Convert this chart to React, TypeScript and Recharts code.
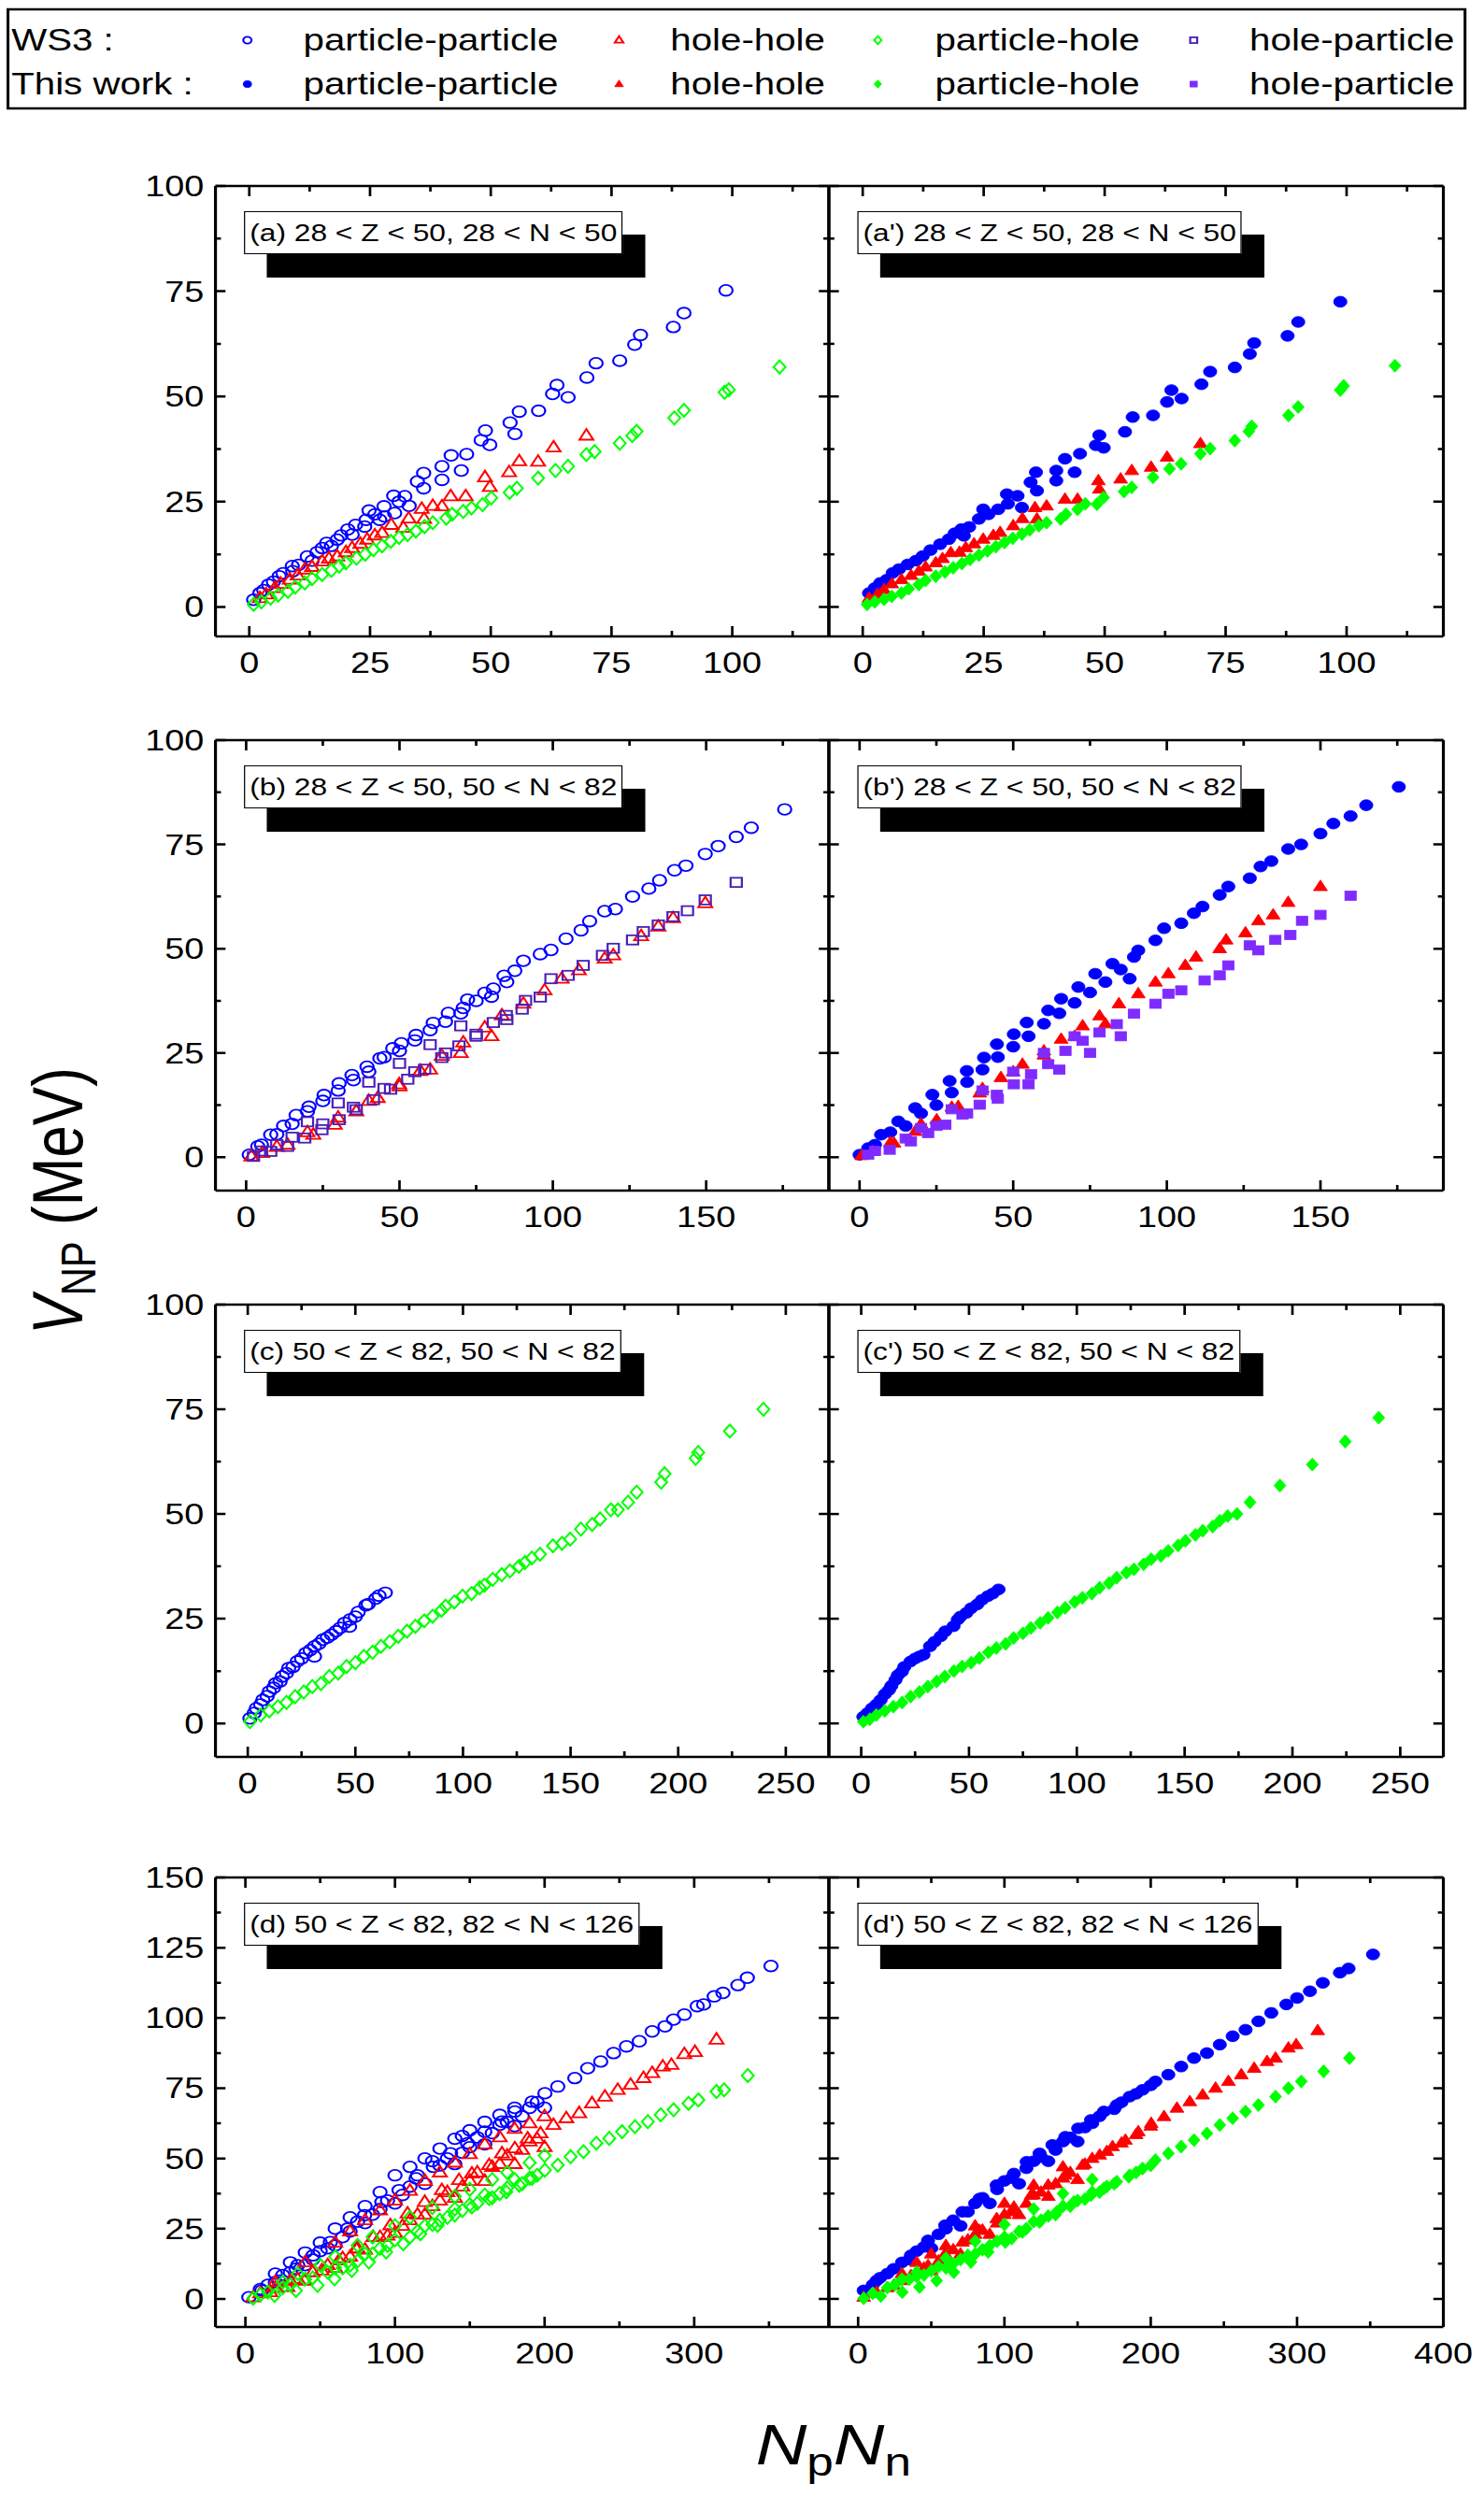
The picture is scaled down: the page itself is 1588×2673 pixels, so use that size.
import React from 'react';
import { ScatterChart, Scatter, XAxis, YAxis } from 'recharts';

type P = [number, number];

// ---- (a) / (a') 28 < Z < 50, 28 < N < 50 ----
const aPP: P[] = [[98.7,75.2],[90,69.8],[87.8,66.5],[81,64.6],[79.8,62.3],[76.7,58.5],[71.8,57.9],[69.9,54.5],[63.7,52.7],[62.8,50.6],[66,49.8],[59.9,46.6],[55.9,46.4],[54,43.8],[55,41.1],[48.9,41.9],[48,39.6],[49.8,38.5],[45,36.3],[41.8,36],[43.9,32.4],[39.9,33.4],[39.9,30.2],[36.1,31.8],[34.8,29.8],[36.1,28.2],[32.2,26.3],[29.9,26.4],[33.1,24],[27.9,23.9],[30.1,22.3],[24.8,22.9],[24.2,20.7],[27,20.7],[23.9,19.1],[20.4,18.4],[21.3,17.2],[18.2,16],[16,15.2],[15.1,14],[12,12],[10.2,10],[8.9,9.7],[6.2,7.3],[4,5.3],[2.2,3.3],[0.9,1.7],[3,4],[5,6],[7,8],[9,8.5],[13,11],[14,13],[17,14.5],[19,17],[22,19.5],[26,22],[28,21.5],[31,25]];
const aHH: P[] = [[69.8,40.7],[63,37.9],[59.8,34.5],[55.9,34.6],[53.8,32],[48.8,30.8],[49.8,28.5],[44.8,26.3],[41.7,26.3],[39.9,23.9],[35.7,23.3],[36.2,20.9],[31.9,18.8],[29.4,19.5],[27.5,17.6],[24.4,16],[21.3,14],[18.2,12],[15.1,10.8],[11.5,8.9],[8.4,6.5],[5.3,4.5],[2.2,2.1],[3.5,3],[6.5,5.5],[10,7.5],[13,9.5],[16.5,11.5],[20,13],[23,15],[26,17],[33,21],[38,24]];
const aPH: P[] = [[109.8,57],[99.3,51.6],[98.4,51],[90,46.7],[88,44.9],[80.2,41.7],[79.3,40.7],[76.7,38.9],[71.5,36.9],[69.8,36.2],[66,33.4],[63.4,32.4],[59.8,30.6],[55.4,28.2],[53.9,27.2],[50.1,25.9],[48.3,24.3],[44.3,22.7],[40.8,21.1],[36.3,19.1],[32.8,17.2],[29.3,15.6],[25.7,13.6],[22.2,11.6],[18.6,9.7],[15.1,7.7],[11.5,5.7],[8,3.7],[4.4,2.1],[0.9,0.6],[2.5,1.2],[6,2.8],[9.5,4.7],[13,6.7],[17,8.7],[20,10.5],[24,12.5],[27.5,14.5],[31,16.5],[34.5,18],[38,20],[42,22],[46,23.5]];
const a2PP: P[] = [[98.7,72.5],[90,67.7],[87.8,64.4],[80.9,62.7],[80,60.1],[76.9,56.9],[71.8,55.9],[70,52.9],[63.8,51.5],[62.9,48.7],[65.9,49.5],[60,45.5],[55.8,45.1],[54.2,41.6],[48.9,40.8],[48.2,38.4],[49.8,37.8],[44.9,36.4],[41.8,35.2],[43.8,32],[40,32.4],[40,30],[35.8,32],[34.7,29.6],[36,27.6],[32,26.4],[29.8,26.8],[32.9,23.6],[24.9,23.2],[28,23.2],[24,20.9],[20.4,18.5],[20.9,16.9],[17.8,16.1],[16,14.9],[12.4,12.1],[9.3,10.1],[6.2,8.1],[3.6,5.7],[1.3,3.3],[2.5,4.5],[5,6.5],[7.5,9],[11,11],[14,13.5],[19,17.5],[22,19],[26,22],[30,24.5]];
const a2HH: P[] = [[69.8,38.8],[62.9,35.6],[59.6,33.2],[55.6,32.4],[53.3,30.4],[48.7,30],[48.9,28],[44.4,25.6],[41.8,25.6],[35.6,23.6],[36,20.9],[31.1,19.3],[28.4,17.7],[24.9,16.1],[21.3,14.1],[18.2,12.9],[15.1,10.5],[11.6,8.5],[8,6.5],[4.4,4.1],[1.3,2.1],[3,3],[6,5.5],[10,7.5],[13,9.5],[16.5,11.5],[20,13],[23,15],[27,17],[33,21],[38,24]];
const a2PH: P[] = [[110,57.3],[99.4,52.5],[98.7,51.5],[90,47.5],[88,45.5],[80.4,42.9],[79.8,41.7],[76.9,39.5],[71.8,37.6],[69.8,36.4],[65.8,34],[63.4,32.8],[60,30.8],[55.6,28.4],[54,27.4],[49.8,26],[48.4,24.4],[44.4,23.2],[40.9,20.9],[36.4,19.3],[32.9,17.3],[29.3,15.3],[25.8,13.3],[22.2,11.3],[18.7,9.3],[15.1,7.3],[11.6,5.3],[8,3.3],[4.4,1.8],[0.9,0.6],[2.5,1.2],[6,2.5],[9.5,4.3],[13,6.3],[17,8.3],[20.5,10.3],[24,12.3],[27.5,14.3],[31,16.3],[34.5,18.3],[38,20],[42,22],[46,24.5]];

// ---- (b) / (b') 28 < Z < 50, 50 < N < 82 ----
const bPP: P[] = [[175.6,83.4],[164.7,79],[159.8,76.8],[153.9,74.6],[149.7,72.7],[143.4,69.9],[139.7,68.8],[134.8,66.4],[131.3,64.4],[126,62.5],[120.4,59.5],[116.9,59],[112,56.6],[109.2,54.4],[104.3,52.4],[99.4,49.7],[95.9,48.7],[90.4,47.1],[87.6,44.7],[84.1,43.5],[80.6,40.4],[77.8,39.4],[72.2,37.8],[70.8,35.8],[65.9,34.6],[61,32.2],[55.4,29.3],[50.6,27.3],[47.8,26.1],[43.6,23.7],[39.4,21.7],[34.5,19.7],[30.3,17.7],[25.4,14.9],[20.5,12.1],[16.3,10.1],[12.2,7.5],[8,5.4],[3.8,2.6],[1,0.6],[5,3],[10,5.5],[15,8],[20,11],[25,13.5],[30,16],[35,18.5],[40,20.5],[45,24],[50,25.5],[55,28],[60,30.5],[65,32.5],[70,34.5],[75,37.5],[80,38.5],[85,42]];
const bHH: P[] = [[149.7,60.9],[139.2,57.3],[134.4,55.3],[128.8,53],[119.7,48.4],[116.9,47.6],[108.5,44.8],[102.9,42.8],[97.3,40],[90.4,36.8],[83.4,34],[77.8,31.1],[70.8,27.5],[63.8,24.3],[56.8,20.7],[49.9,17.5],[42.9,14.2],[35.9,11],[28.9,7.8],[21.9,5.4],[13.5,3],[5.2,1],[1.7,0.2],[10,2.5],[20,6],[30,9.5],[40,13.5],[50,17],[60,21],[70,25],[80,29]];
const bHP: P[] = [[159.8,65.9],[149.7,61.7],[143.9,59.1],[139.2,57.7],[134.4,55.7],[129.5,54.1],[126,52.1],[119.7,50.1],[116.2,48.4],[109.9,46],[105,43.6],[99.4,42.8],[95.9,38.4],[91.1,37.6],[84.8,34],[80.6,32.3],[75,29.5],[69.4,26.7],[63.8,23.9],[58.2,21.1],[52.7,18.7],[47.1,16.3],[41.5,13.8],[35.9,11.4],[30.3,9],[24.7,6.6],[19.1,4.6],[13.5,2.6],[8,1.4],[2.4,0.2],[40,18],[50,22.5],[60,27],[70,31.5],[30,13],[20,8.5],[5,1.5],[10,3],[15,4.8],[25,8],[35,12],[45,16.5],[55,20.5],[65,25],[75,29],[85,33],[90,35.5]];
const b2PP: P[] = [[175.5,88.8],[164.9,84.4],[159.8,81.8],[154.2,80],[150,77.6],[143.7,75],[139.5,73.9],[134,71],[130.5,69.7],[127,66.9],[120,64.9],[117.2,62.9],[111.6,60.1],[108.8,58.5],[104.7,56.1],[99.1,54.9],[96.3,52],[90.7,49.6],[89.3,48],[82.3,46.4],[76.7,44],[87.9,42.8],[71.2,40.8],[65.6,38],[61.4,35.2],[54.4,32.3],[50.2,29.5],[44.7,27.1],[40.5,23.9],[34.9,20.7],[29.3,18.3],[23.7,15],[18.1,11.8],[12.6,8.6],[7,5.4],[2.8,2.2],[0,0.6],[45,24],[55,29],[65,34.5],[75,39.5],[35,18],[25,12.5],[15,7.5],[5,3],[10,6],[20,10.5],[30,15.5],[40,21],[50,26.5],[60,32],[70,37],[80,42],[85,45]];
const b2HH: P[] = [[150,64.9],[139.5,61.1],[134.6,58.1],[129.8,56.7],[125.6,53.8],[119.3,52.1],[117.2,50],[109.5,48],[106,46],[100.5,44],[96.3,42],[90.7,39.2],[84.4,36.8],[78.1,33.9],[72.6,31.5],[65.6,28.3],[60,25.5],[53,22.3],[46,19.1],[39.1,15.4],[32.1,12.2],[25.1,9],[18.1,6.2],[11.2,3.4],[4.2,1.4],[0.7,0.4],[10,3.5],[20,8],[30,12],[40,16.5],[50,20.5],[60,24.5],[70,29],[80,32]];
const b2HP: P[] = [[159.8,62.7],[150,58.1],[144,56.7],[140.2,53.3],[135.3,52.1],[129.8,49.6],[127,50.8],[120,46],[117.2,43.6],[112.3,42.4],[104.7,40],[100.5,39.2],[96.3,36.8],[89.3,34.4],[83.7,31.9],[78.1,29.9],[72.6,27.9],[67,25.5],[61.4,22.3],[55.8,19.9],[50.2,17.5],[44.7,15],[39.1,12.6],[33.5,10.2],[27.9,7.8],[22.3,5.8],[16.7,3.8],[9.8,1.8],[2.8,0.6],[40,16],[50,20.5],[60,25],[70,29],[30,11.5],[20,7],[5,1.5],[15,4.5],[25,7.5],[35,10.5],[45,14],[55,17.5],[65,21],[75,25],[85,29]];

// ---- (c) / (c') 50 < Z < 82, 50 < N < 82 ----
const cPP: P[] = [[63.9,31.2],[59.5,29.8],[54.9,28.2],[51.3,26.6],[47.5,24.8],[47.3,23.1],[42.9,22.8],[38.9,21.2],[34.9,20],[31,18.4],[31,16],[27,16.8],[23,14.8],[19,13.2],[16,11.2],[13,9.6],[10,7.6],[7,5.6],[4,3.6],[1,1.2],[3,2.5],[6,4.5],[9,6.5],[12,8.5],[15,10],[18,12],[21,13.5],[25,15.5],[29,17.5],[33,19],[37,20.5],[41,22],[45,24],[50,25.5],[56,28.5],[61,30.5]];
const cPH: P[] = [[239.6,75],[224,69.8],[209.3,64.7],[208.1,63.3],[193.7,59.6],[192.1,57.6],[180.7,55.2],[176.7,52.8],[168.7,51],[163.7,48.8],[154.8,46.4],[149.8,44],[141.8,42.4],[135.8,40.4],[128.8,38.4],[121.8,36.4],[113.8,34.4],[107.8,32.4],[99.8,30.4],[91.9,28],[85.9,25.6],[77.9,23.2],[69.9,20.8],[61.9,18.4],[53.9,16],[45.9,13.6],[37.9,11.2],[30,8.8],[22,6.4],[14,4],[6,2],[1,0.4],[10,3],[18,5],[26,7.5],[34,9.5],[42,12],[50,14.5],[58,17],[66,19.5],[74,22],[82,24.5],[90,27],[96,29],[104,31],[110,33],[118,35.5],[126,37.5],[132,39.5],[146,43],[160,47.5],[172,51]];
const c2PP: P[] = [[63.7,32],[58.8,30.4],[53.8,28.4],[48.8,26.4],[44.8,24.8],[42.8,23.2],[36.9,20.8],[31.9,18.4],[28.9,16.4],[22.9,14.8],[18.9,12.4],[15.9,10.4],[12.9,8],[9,5.6],[5,3.6],[1,1.6],[3,2.5],[7,4.5],[11,7],[14,9],[17,11.5],[20,13.5],[25,15.5],[27,16],[34,19.5],[39,22],[46,25.5],[51,27.5],[56,29.5],[61,31]];
const c2PH: P[] = [[240,73],[224.5,67.3],[209.2,61.8],[194.2,56.8],[180.3,52.8],[174.3,50],[166.3,48.4],[158.4,46],[150.4,43.6],[142.4,41.2],[134.5,39.2],[126.5,36.8],[118.5,34.8],[110.6,32.4],[102.6,30],[94.6,27.6],[86.7,25.2],[78.7,22.8],[70.7,20.4],[62.7,18],[54.8,15.6],[46.8,13.6],[38.8,11.2],[30.9,8.8],[22.9,6.4],[14.9,4],[7,2],[1,0.4],[4,1],[11,3],[19,5],[27,7.5],[35,10],[43,12.5],[51,14.5],[59,17],[67,19],[75,21.5],[83,24],[91,26.5],[99,29],[107,31],[115,33.5],[123,36],[131,38],[139,40],[147,42.5],[155,45],[163,47],[170,49.5]];

// ---- (d) / (d') 50 < Z < 82, 82 < N < 126 ----
const dPP: P[] = [[351.3,118.5],[335.5,114.3],[329.2,111.7],[319.2,108.9],[313.4,107.7],[306.3,104.8],[302,104.2],[293.4,101.2],[286.2,99.4],[280.5,97],[271.9,95.2],[263.3,91.7],[254.7,89.9],[246.1,87.5],[237.5,84.5],[228.8,82.1],[220.2,78.6],[208.8,75.6],[200.2,73.2],[191.6,70.2],[180.1,66.7],[171.5,63.1],[160,59.5],[148.5,55.4],[137.1,51.8],[125.6,47],[114.1,42.9],[102.7,38.7],[91.2,34.5],[79.7,29.8],[68.3,25],[56.8,20.2],[45.3,15.5],[33.8,10.7],[22.4,6.5],[10.9,3],[2.3,0.6],[40,12],[60,19],[80,27],[100,34],[120,41],[140,48],[160,55],[180,61.5],[200,68],[10,3.5],[15,5],[20,6],[25,8.5],[30,9.5],[35,12],[45,14],[50,17],[55,18],[65,22],[70,24],[75,27.5],[85,30],[90,32],[95,35],[105,37],[110,40],[115,44],[130,47.5],[135,50],[145,52],[150,54],[155,57.5],[165,59],[170,62],[175,63],[185,65],[190,68],[195,70],[100,44],[110,47],[120,50],[130,53.5],[140,57],[150,60],[160,63],[170,65.5],[180,68],[125,49],[145,58],[20,9],[30,13],[40,16.5],[50,20],[60,25],[70,29],[80,33],[90,38]];
const dHH: P[] = [[314.9,92.3],[300.5,87.9],[293.4,87.1],[284.8,83.3],[279,82.7],[271.9,80.4],[266.1,78.6],[257.5,76.2],[248.9,74.4],[240.3,72],[231.7,69.6],[223.1,66.1],[214.5,64.3],[205.9,61.9],[197.3,58.9],[188.7,57.1],[180.1,53.6],[171.5,51.8],[162.9,47.6],[151.4,44.6],[142.8,42.3],[131.3,38.7],[119.9,34.5],[108.4,30.4],[96.9,26.2],[85.5,22],[74,17.9],[62.5,13.7],[51,10.1],[39.6,6.5],[28.1,4.2],[16.6,2.4],[5.2,0.6],[60,11],[80,17.5],[100,23.5],[120,30],[140,36],[160,42],[180,48],[200,54],[10,2],[20,4],[30,6.5],[35,7],[45,9.5],[55,12],[65,14.5],[70,15],[75,18],[90,22],[95,22.5],[105,26],[110,28],[115,30],[125,33],[130,35],[135,38],[145,40],[150,42],[155,45],[165,47],[170,48],[175,51],[185,53],[190,56],[195,57],[60,20],[80,28],[100,35],[120,42],[140,48.5],[160,55],[180,60.5],[200,65],[20,6],[40,13],[70,24],[90,31.5],[110,38.5],[130,45],[150,51.5],[170,57.5],[190,62.5]];
const dPH: P[] = [[335.8,79.5],[320,74.4],[314.9,73.8],[302.8,70.8],[296.2,69.6],[286.2,67.3],[277.6,65.5],[269,63.1],[260.4,61.3],[251.8,59.5],[243.2,57.1],[234.6,55.4],[226,52.4],[217.4,50.6],[208.8,47.6],[200.2,45.8],[191.6,42.9],[183,40.5],[174.4,38.1],[162.9,35.7],[151.4,32.7],[139.9,29.8],[128.5,26.2],[117,23.2],[105.5,19.6],[94.1,16.7],[82.6,13.1],[71.1,10.1],[59.6,7.1],[48.2,4.8],[33.8,3],[19.5,1.2],[5.2,0.2],[100,21],[120,26],[140,32],[160,37],[180,42.5],[60,11],[80,16],[10,1.5],[15,2.5],[25,4],[30,5],[40,7],[45,7.5],[55,9.5],[65,11],[70,12],[75,13.5],[85,16],[90,18],[95,19],[110,22],[115,24],[125,26.5],[130,28],[135,29],[145,31.5],[150,33.5],[155,34],[165,36],[170,37.5],[175,39.5],[185,41],[190,43],[195,44],[50,12],[75,19],[100,26],[125,32.5],[150,39],[175,45],[200,51],[60,15],[85,22],[110,29],[140,36.5],[165,42.5],[190,48.5],[25,6],[35,9]];
const d2PP: P[] = [[351.9,122.6],[335.2,117.6],[329.3,116.1],[317.6,112.5],[308.8,109.5],[300,107.1],[292.7,104.8],[282.4,101.8],[273.6,98.8],[264.8,95.8],[256,93.5],[247.2,90.5],[238.4,87.5],[229.6,85.7],[220.8,82.7],[212,79.8],[203.2,77.4],[194.4,74.4],[185.6,72],[176.8,69],[168,66.7],[159.2,63.7],[150.4,60.7],[141.6,57.7],[132.8,54.8],[124,51.8],[115.2,48.8],[106.5,44.6],[94.7,40.5],[83,35.7],[71.3,31],[59.5,26.2],[47.8,20.8],[36.1,15.5],[24.3,10.7],[12.6,6.5],[3.8,3],[50,18],[70,26],[90,34],[110,41],[130,49],[150,56],[10,5],[15,7.5],[20,9],[30,13],[35,14],[40,17],[45,18.5],[55,23],[60,25],[65,28],[75,31],[80,34],[85,36],[95,39],[100,42],[105,43],[115,46.5],[120,49],[125,50.5],[135,53],[140,56],[145,57.5],[155,61],[160,62.5],[165,65],[175,67.5],[180,70],[190,73],[200,76]];
const d2HH: P[] = [[314.1,95.5],[299.4,90.5],[294.1,89.3],[285.3,85.7],[279.5,84.5],[270.7,82.1],[261.9,79.8],[253.1,77.4],[244.3,75],[235.5,72.6],[226.7,70.2],[217.9,67.9],[209.1,64.9],[200.3,62.5],[191.5,59.5],[182.7,56.5],[173.9,54.2],[165.1,51.2],[153.4,47.6],[141.6,44],[129.9,40.5],[118.2,36.9],[106.5,32.7],[94.7,28.6],[83,24.4],[71.3,20.2],[59.5,16.1],[47.8,11.9],[36.1,8.3],[24.3,4.8],[12.6,2.4],[3.8,0.6],[50,10],[70,16],[90,23],[110,30],[130,36.5],[150,42.5],[10,2],[20,4],[30,6.5],[40,9.5],[45,11],[55,13.5],[60,15],[65,17.5],[75,21],[80,23],[85,24.5],[95,27],[100,30],[105,31],[115,34],[120,37],[125,38],[135,41],[140,43],[145,45],[155,48],[160,50],[170,52.5],[180,55.5],[190,58.5],[200,61.5],[60,19],[80,26],[100,34],[120,40.5],[140,47],[30,9],[40,13],[50,16]];
const d2PH: P[] = [[335.8,85.7],[318.2,81],[302.9,77.4],[294.1,75],[285.3,72],[273.6,69],[264.8,66.7],[256,64.3],[247.2,61.9],[238.4,58.9],[229.6,56.5],[220.8,54.2],[212,51.8],[203.2,49.4],[194.4,46.4],[185.6,44],[176.8,41.7],[168,39.3],[159.2,36.9],[147.5,34.5],[135.8,31],[124,27.4],[112.3,23.8],[100.6,20.2],[88.9,16.7],[77.1,13.1],[65.4,9.5],[53.7,6.5],[41.9,4.2],[30.2,2.4],[15.5,1],[3.8,0.2],[60,11],[80,16],[100,22],[120,27.5],[140,33],[160,38],[10,2],[20,4],[25,5],[35,7],[40,8],[45,8.5],[50,10],[55,11.5],[65,12.5],[70,14],[75,15.5],[85,17.5],[90,19],[95,20.5],[105,21.5],[110,24],[115,25],[125,28],[130,29.5],[135,30],[145,33],[150,35],[155,35.5],[165,38],[170,40],[175,41],[185,43.5],[190,45],[200,47.5],[60,14.5],[80,20.5],[100,26.5],[120,32],[140,37.5],[160,42.5],[30,7],[40,9.5]];

// ---- ticks ----
const xMajorA = [0, 25, 50, 75, 100];
const xMinorA = [12.5, 37.5, 62.5, 87.5, 112.5];
const xMajorB = [0, 50, 100, 150];
const xMinorB = [25, 75, 125, 175];
const xMajorC = [0, 50, 100, 150, 200, 250];
const xMinorC = [25, 75, 125, 175, 225];
const xMajorD = [0, 100, 200, 300];
const xMajorD2 = [0, 100, 200, 300, 400];
const xMinorD = [50, 150, 250, 350];
const yMajor100 = [0, 25, 50, 75, 100];
const yMinor100 = [12.5, 37.5, 62.5, 87.5];
const yMajor150 = [0, 25, 50, 75, 100, 125, 150];
const yMinor150 = [12.5, 37.5, 62.5, 87.5, 112.5, 137.5];

const FONT = '"Liberation Sans", Arial, Helvetica, sans-serif';
const STRETCH = 1.22; // the reference is stretched horizontally
const BLUE = '#0000ff';
const RED = '#ff0000';
const GREEN = '#00ff00';
const PURPLE = '#7f2bff';
const NAVY = '#4a1fb8';

type Kind = 'circle' | 'tri' | 'diamond' | 'square';

function Marker({ cx, cy, kind, color, filled, r = 5 }: any) {
  const fill = filled ? color : 'none';
  const sw = filled ? 0.8 : 1.8;
  if (cx == null || cy == null) return <g />;
  if (kind === 'circle') return <circle cx={cx} cy={cy} r={r} fill={fill} stroke={color} strokeWidth={sw} />;
  if (kind === 'tri')
    return <polygon points={`${cx},${cy - r * 1.2} ${cx + r * 1.05},${cy + r * 0.75} ${cx - r * 1.05},${cy + r * 0.75}`} fill={fill} stroke={color} strokeWidth={sw} />;
  if (kind === 'diamond')
    return <polygon points={`${cx},${cy - r * 1.2} ${cx + r * 0.9},${cy} ${cx},${cy + r * 1.2} ${cx - r * 0.9},${cy}`} fill={fill} stroke={color} strokeWidth={sw} />;
  return <rect x={cx - r * 0.85} y={cy - r * 0.85} width={r * 1.7} height={r * 1.7} fill={fill} stroke={color} strokeWidth={sw} />;
}

// tick marks point into the frame; labels sit outside
const makeTick = (side: string, majors: number[], labels: boolean) => (props: any) => {
  const { x, y, payload } = props;
  const v = payload.value;
  const major = majors.includes(v);
  const len = major ? 11 : 6;
  let line = null;
  let text = null;
  if (side === 'bottom') {
    line = <line x1={x} y1={y} x2={x} y2={y - len} stroke="#000" strokeWidth={2.2} />;
    if (labels && major) text = <text x={x} y={y + 39} textAnchor="middle" fontSize={31} fontFamily={FONT} fill="#000">{v}</text>;
  } else if (side === 'top') {
    line = <line x1={x} y1={y} x2={x} y2={y + len} stroke="#000" strokeWidth={2.2} />;
  } else if (side === 'left') {
    line = <line x1={x} y1={y} x2={x + len * 0.8} y2={y} stroke="#000" strokeWidth={2.5} />;
    if (labels && major) text = <text x={x - 10} y={y + 11} textAnchor="end" fontSize={31} fontFamily={FONT} fill="#000">{v}</text>;
  } else {
    line = <line x1={x} y1={y} x2={x - len * 0.8} y2={y} stroke="#000" strokeWidth={2.5} />;
  }
  return <g>{line}{text}</g>;
};

const WS3 = (data: P[], kind: Kind, color: string) => ({ data, kind, color, filled: false });
const OURS = (data: P[], kind: Kind, color: string) => ({ data, kind, color, filled: true });

const COLS = [189, 727];
const COL_W = [538, 539];
const ROWS = [199, 792, 1396, 2009];
const ROW_H = [482, 482, 484, 481];

const panels = [
  { label: '(a) 28 < Z < 50, 28 < N < 50', col: 0, row: 0, xd: [-7, 120], yd: [-7, 100], xM: xMajorA, xm: xMinorA, yM: yMajor100, ym: yMinor100,
    series: [WS3(aPP, 'circle', BLUE), WS3(aHH, 'tri', RED), WS3(aPH, 'diamond', GREEN)] },
  { label: "(a') 28 < Z < 50, 28 < N < 50", col: 1, row: 0, xd: [-7, 120], yd: [-7, 100], xM: xMajorA, xm: xMinorA, yM: yMajor100, ym: yMinor100,
    series: [OURS(a2PP, 'circle', BLUE), OURS(a2HH, 'tri', RED), OURS(a2PH, 'diamond', GREEN)] },
  { label: '(b) 28 < Z < 50, 50 < N < 82', col: 0, row: 1, xd: [-10, 190], yd: [-8, 100], xM: xMajorB, xm: xMinorB, yM: yMajor100, ym: yMinor100,
    series: [WS3(bPP, 'circle', BLUE), WS3(bHH, 'tri', RED), WS3(bHP, 'square', NAVY)] },
  { label: "(b') 28 < Z < 50, 50 < N < 82", col: 1, row: 1, xd: [-10, 190], yd: [-8, 100], xM: xMajorB, xm: xMinorB, yM: yMajor100, ym: yMinor100,
    series: [OURS(b2PP, 'circle', BLUE), OURS(b2HH, 'tri', RED), OURS(b2HP, 'square', PURPLE)] },
  { label: '(c) 50 < Z < 82, 50 < N < 82', col: 0, row: 2, xd: [-15, 270], yd: [-8, 100], xM: xMajorC, xm: xMinorC, yM: yMajor100, ym: yMinor100,
    series: [WS3(cPP, 'circle', BLUE), WS3(cPH, 'diamond', GREEN)] },
  { label: "(c') 50 < Z < 82, 50 < N < 82", col: 1, row: 2, xd: [-15, 270], yd: [-8, 100], xM: xMajorC, xm: xMinorC, yM: yMajor100, ym: yMinor100,
    series: [OURS(c2PP, 'circle', BLUE), OURS(c2PH, 'diamond', GREEN)] },
  { label: '(d) 50 < Z < 82, 82 < N < 126', col: 0, row: 3, xd: [-20, 390], yd: [-10, 150], xM: xMajorD, xm: xMinorD, yM: yMajor150, ym: yMinor150,
    series: [WS3(dPP, 'circle', BLUE), WS3(dHH, 'tri', RED), WS3(dPH, 'diamond', GREEN)] },
  { label: "(d') 50 < Z < 82, 82 < N < 126", col: 1, row: 3, xd: [-20, 400], yd: [-10, 150], xM: xMajorD2, xm: xMinorD, yM: yMajor150, ym: yMinor150,
    series: [OURS(d2PP, 'circle', BLUE), OURS(d2HH, 'tri', RED), OURS(d2PH, 'diamond', GREEN)] },
];

const ML = 110, MR = 50, MT = 20, MB = 60;
const AX = 1; // axis band thickness (an axis of size 0 is not drawn)

function Panel({ p }: any) {
  const w = COL_W[p.col], h = ROW_H[p.row];
  const left = COLS[p.col], top = ROWS[p.row];
  const inRange = (arr: number[], d: number[]) => arr.filter((v) => v >= d[0] && v <= d[1]);
  const xt = inRange([...p.xM, ...p.xm], p.xd);
  const yt = inRange([...p.yM, ...p.ym], p.yd);
  const axisLine = { stroke: '#000', strokeWidth: 2.6 };
  return (
    <>
      <div style={{ position: 'absolute', left: left - ML, top: top - MT }}>
        <ScatterChart width={w + ML + MR} height={h + MT + MB}
          margin={{ top: MT - AX, right: MR - AX, bottom: MB - AX, left: ML - AX }}>
          <XAxis xAxisId="b" type="number" dataKey="x" orientation="bottom" height={AX} domain={p.xd} ticks={xt} interval={0}
            allowDataOverflow tickSize={0} tickMargin={0} tickLine={false} axisLine={axisLine} tick={makeTick('bottom', p.xM, true)} />
          <XAxis xAxisId="t" type="number" dataKey="x" orientation="top" height={AX} domain={p.xd} ticks={xt} interval={0}
            allowDataOverflow tickSize={0} tickMargin={0} tickLine={false} axisLine={axisLine} tick={makeTick('top', p.xM, false)} />
          <YAxis yAxisId="l" type="number" dataKey="y" orientation="left" width={AX} domain={p.yd} ticks={yt} interval={0}
            allowDataOverflow tickSize={0} tickMargin={0} tickLine={false} axisLine={axisLine} tick={makeTick('left', p.yM, p.col === 0)} />
          <YAxis yAxisId="r" type="number" dataKey="y" orientation="right" width={AX} domain={p.yd} ticks={yt} interval={0}
            allowDataOverflow tickSize={0} tickMargin={0} tickLine={false} axisLine={axisLine} tick={makeTick('right', p.yM, false)} />
          {p.series.map((s: any, i: number) => (
            <Scatter key={i} xAxisId="b" yAxisId="l" data={s.data.map(([x, y]: P) => ({ x, y }))} isAnimationActive={false}
              shape={(props: any) => <Marker cx={props.cx} cy={props.cy} kind={s.kind} color={s.color} filled={s.filled} r={5.8} />} />
          ))}
        </ScatterChart>
      </div>
      <div style={{ position: 'absolute', left: left + 25, top: top + 27, height: 44, lineHeight: '44px', padding: '0 4px',
        background: '#fff', border: '1px solid #000', boxShadow: '20px 25px 0 0 #000', fontFamily: FONT, fontSize: 26,
        whiteSpace: 'nowrap', color: '#000' }}>
        {p.label}
      </div>
    </>
  );
}

const legendItems: { kind: Kind; label: string; ws3: string; ours: string; mx: number; tx: number }[] = [
  { kind: 'circle', label: 'particle-particle', ws3: BLUE, ours: BLUE, mx: 217, tx: 266 },
  { kind: 'tri', label: 'hole-hole', ws3: RED, ours: RED, mx: 543, tx: 588 },
  { kind: 'diamond', label: 'particle-hole', ws3: GREEN, ours: GREEN, mx: 770, tx: 820 },
  { kind: 'square', label: 'hole-particle', ws3: NAVY, ours: PURPLE, mx: 1047, tx: 1096 },
];

export default function App() {
  const W = Math.round(1588 / STRETCH);
  return (
    <div style={{ position: 'absolute', left: 0, top: 0, width: W, height: 2673, background: '#fff',
      transform: `scaleX(${STRETCH})`, transformOrigin: '0 0', overflow: 'hidden' }}>
      <svg width={W} height={2673} style={{ position: 'absolute', left: 0, top: 0 }}>
        <rect x={7} y={10} width={1278} height={106} fill="#fff" stroke="#000" strokeWidth={2.5} />
        <text x={10} y={54} fontSize={33} fontFamily={FONT}>WS3 :</text>
        <text x={10} y={101} fontSize={33} fontFamily={FONT}>This work :</text>
        {legendItems.map((it) => (
          <g key={it.label}>
            <Marker cx={it.mx} cy={43} kind={it.kind} color={it.ws3} filled={false} r={3.6} />
            <text x={it.tx} y={54} fontSize={33} fontFamily={FONT}>{it.label}</text>
            <Marker cx={it.mx} cy={90} kind={it.kind} color={it.ours} filled r={3.6} />
            <text x={it.tx} y={101} fontSize={33} fontFamily={FONT}>{it.label}</text>
          </g>
        ))}
        <text x={72} y={1285} transform="rotate(-90 72 1285)" textAnchor="middle" fontSize={62} fontFamily={FONT}>
          <tspan fontStyle="italic">V</tspan>
          <tspan dy={12} fontSize={42}>NP</tspan>
          <tspan dy={-12}> (MeV)</tspan>
        </text>
        <text x={731} y={2637} textAnchor="middle" fontSize={62} fontFamily={FONT}>
          <tspan fontStyle="italic">N</tspan>
          <tspan dy={12} fontSize={42}>p</tspan>
          <tspan dy={-12} fontStyle="italic">N</tspan>
          <tspan dy={12} fontSize={42}>n</tspan>
        </text>
      </svg>
      {panels.map((p) => <Panel key={p.label} p={p} />)}
    </div>
  );
}
